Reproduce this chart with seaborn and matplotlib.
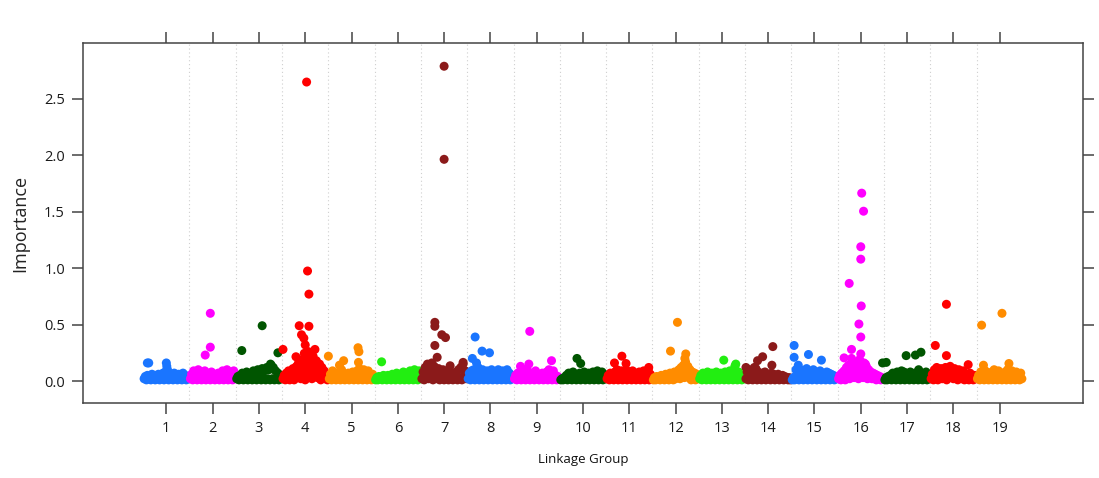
import numpy as np
import pandas as pd
import matplotlib
matplotlib.use("Agg")
import matplotlib.pyplot as plt
import seaborn as sns

# ---------------- data ----------------
groups = list(range(1, 20))
group_colors = ["#1a75ff", "#ff00ff", "#005500", "#ff0000", "#ff8c00", "#22ee11", "#8b1a1a",
                "#1a75ff", "#ff00ff", "#005500", "#ff0000", "#ff8c00", "#22ee11", "#8b1a1a",
                "#1a75ff", "#ff00ff", "#005500", "#ff0000", "#ff8c00"]

# marker offsets within each linkage group (relative to group centre)
base_offsets = [-0.48, -0.455, -0.43, -0.41, -0.385, -0.36, -0.335, -0.31, -0.29, -0.265,
                -0.24, -0.215, -0.19, -0.17, -0.145, -0.12, -0.095, -0.07, -0.05, -0.025,
                0.0, 0.025, 0.05, 0.07, 0.095, 0.12, 0.145, 0.17, 0.19, 0.215,
                0.24, 0.265, 0.29, 0.31, 0.335, 0.36, 0.385, 0.41, 0.43, 0.455,
                0.48]

base_g1 = [0.02, 0.04, 0.01, 0.05, 0.02, 0.03, 0.01, 0.06, 0.02, 0.04,
           0.01, 0.05, 0.02, 0.06, 0.01, 0.04, 0.02, 0.07, 0.01, 0.08,
           0.02, 0.10, 0.01, 0.06, 0.02, 0.05, 0.01, 0.07, 0.02, 0.04,
           0.01, 0.06, 0.02, 0.05, 0.01, 0.07, 0.02, 0.05, 0.01, 0.04,
           0.02]
base_g2 = [0.02, 0.06, 0.01, 0.09, 0.02, 0.07, 0.01, 0.10, 0.02, 0.08,
           0.01, 0.06, 0.02, 0.09, 0.01, 0.07, 0.02, 0.05, 0.01, 0.08,
           0.02, 0.06, 0.01, 0.04, 0.02, 0.07, 0.01, 0.05, 0.02, 0.09,
           0.01, 0.06, 0.02, 0.10, 0.01, 0.08, 0.02, 0.06, 0.01, 0.09,
           0.02]
base_g3 = [0.02, 0.04, 0.01, 0.05, 0.02, 0.07, 0.01, 0.06, 0.02, 0.08,
           0.01, 0.05, 0.02, 0.07, 0.01, 0.09, 0.02, 0.06, 0.01, 0.10,
           0.02, 0.08, 0.01, 0.11, 0.02, 0.09, 0.01, 0.12, 0.02, 0.10,
           0.01, 0.14, 0.02, 0.12, 0.01, 0.09, 0.02, 0.07, 0.01, 0.05,
           0.02]
base_g4 = [0.02, 0.05, 0.01, 0.07, 0.03, 0.09, 0.01, 0.06, 0.04, 0.11,
           0.01, 0.08, 0.13, 0.04, 0.16, 0.10, 0.02, 0.19, 0.07, 0.14,
           0.01, 0.21, 0.11, 0.05, 0.17, 0.09, 0.02, 0.22, 0.13, 0.06,
           0.18, 0.03, 0.10, 0.15, 0.01, 0.12, 0.06, 0.09, 0.02, 0.05,
           0.01]
base_g5 = [0.02, 0.06, 0.01, 0.09, 0.02, 0.07, 0.01, 0.05, 0.02, 0.08,
           0.01, 0.10, 0.02, 0.06, 0.01, 0.04, 0.02, 0.07, 0.01, 0.05,
           0.02, 0.08, 0.01, 0.06, 0.02, 0.09, 0.01, 0.11, 0.02, 0.08,
           0.01, 0.10, 0.02, 0.07, 0.01, 0.09, 0.02, 0.05, 0.01, 0.06,
           0.02]
base_g6 = [0.01, 0.03, 0.01, 0.04, 0.02, 0.03, 0.01, 0.05, 0.02, 0.04,
           0.01, 0.05, 0.02, 0.04, 0.01, 0.06, 0.02, 0.05, 0.01, 0.07,
           0.02, 0.06, 0.01, 0.05, 0.02, 0.08, 0.01, 0.07, 0.02, 0.06,
           0.01, 0.09, 0.02, 0.07, 0.01, 0.10, 0.02, 0.08, 0.01, 0.09,
           0.02]
base_g7 = [0.02, 0.08, 0.01, 0.12, 0.04, 0.15, 0.02, 0.10, 0.06, 0.16,
           0.01, 0.13, 0.04, 0.09, 0.02, 0.11, 0.01, 0.07, 0.03, 0.10,
           0.01, 0.08, 0.02, 0.06, 0.01, 0.09, 0.02, 0.07, 0.01, 0.05,
           0.02, 0.08, 0.01, 0.10, 0.03, 0.12, 0.01, 0.15, 0.04, 0.09,
           0.02]
base_g8 = [0.02, 0.07, 0.01, 0.09, 0.02, 0.10, 0.01, 0.06, 0.03, 0.12,
           0.01, 0.08, 0.02, 0.10, 0.01, 0.07, 0.02, 0.09, 0.01, 0.06,
           0.02, 0.10, 0.01, 0.08, 0.02, 0.07, 0.01, 0.10, 0.02, 0.06,
           0.01, 0.09, 0.02, 0.08, 0.01, 0.10, 0.02, 0.07, 0.01, 0.05,
           0.02]
base_g9 = [0.02, 0.05, 0.01, 0.07, 0.02, 0.06, 0.01, 0.09, 0.02, 0.10,
           0.01, 0.06, 0.02, 0.08, 0.01, 0.05, 0.02, 0.07, 0.01, 0.09,
           0.02, 0.06, 0.01, 0.05, 0.02, 0.07, 0.01, 0.06, 0.02, 0.08,
           0.01, 0.10, 0.02, 0.07, 0.01, 0.09, 0.02, 0.05, 0.01, 0.04,
           0.02]
base_g10 = [0.01, 0.02, 0.01, 0.03, 0.02, 0.05, 0.01, 0.07, 0.02, 0.05,
            0.01, 0.08, 0.02, 0.06, 0.01, 0.04, 0.02, 0.07, 0.01, 0.05,
            0.02, 0.08, 0.01, 0.06, 0.02, 0.07, 0.01, 0.04, 0.02, 0.08,
            0.01, 0.06, 0.02, 0.09, 0.01, 0.07, 0.02, 0.08, 0.01, 0.06,
            0.02]
base_g11 = [0.02, 0.05, 0.01, 0.07, 0.02, 0.06, 0.01, 0.08, 0.02, 0.10,
            0.01, 0.07, 0.02, 0.09, 0.01, 0.06, 0.02, 0.10, 0.01, 0.08,
            0.02, 0.06, 0.01, 0.09, 0.02, 0.07, 0.01, 0.05, 0.02, 0.08,
            0.01, 0.06, 0.02, 0.09, 0.01, 0.07, 0.02, 0.10, 0.01, 0.06,
            0.02]
base_g12 = [0.01, 0.03, 0.01, 0.04, 0.02, 0.03, 0.01, 0.05, 0.02, 0.04,
            0.01, 0.06, 0.02, 0.05, 0.01, 0.07, 0.02, 0.06, 0.01, 0.08,
            0.02, 0.07, 0.04, 0.10, 0.02, 0.12, 0.06, 0.14, 0.03, 0.17,
            0.08, 0.13, 0.03, 0.10, 0.01, 0.08, 0.02, 0.07, 0.01, 0.06,
            0.02]
base_g13 = [0.02, 0.05, 0.01, 0.07, 0.02, 0.06, 0.01, 0.08, 0.02, 0.06,
            0.01, 0.07, 0.02, 0.05, 0.01, 0.08, 0.02, 0.06, 0.01, 0.07,
            0.02, 0.05, 0.01, 0.08, 0.02, 0.06, 0.01, 0.09, 0.02, 0.07,
            0.01, 0.10, 0.02, 0.06, 0.01, 0.08, 0.02, 0.05, 0.01, 0.04,
            0.02]
base_g14 = [0.02, 0.08, 0.01, 0.10, 0.02, 0.07, 0.01, 0.09, 0.03, 0.11,
            0.01, 0.08, 0.02, 0.06, 0.01, 0.07, 0.02, 0.08, 0.01, 0.06,
            0.02, 0.05, 0.01, 0.07, 0.02, 0.06, 0.01, 0.05, 0.02, 0.06,
            0.01, 0.04, 0.02, 0.05, 0.01, 0.04, 0.02, 0.03, 0.01, 0.03,
            0.01]
base_g15 = [0.01, 0.03, 0.01, 0.04, 0.02, 0.06, 0.01, 0.10, 0.02, 0.07,
            0.01, 0.09, 0.02, 0.11, 0.01, 0.08, 0.02, 0.07, 0.01, 0.10,
            0.02, 0.08, 0.01, 0.06, 0.02, 0.09, 0.01, 0.07, 0.02, 0.05,
            0.01, 0.08, 0.02, 0.07, 0.01, 0.06, 0.02, 0.05, 0.01, 0.04,
            0.02]
base_g16 = [0.02, 0.05, 0.01, 0.07, 0.03, 0.09, 0.01, 0.12, 0.05, 0.14,
            0.02, 0.10, 0.07, 0.17, 0.03, 0.12, 0.08, 0.15, 0.02, 0.19,
            0.06, 0.11, 0.03, 0.16, 0.09, 0.13, 0.02, 0.10, 0.06, 0.08,
            0.02, 0.07, 0.04, 0.06, 0.01, 0.05, 0.02, 0.04, 0.01, 0.03,
            0.02]
base_g17 = [0.01, 0.03, 0.01, 0.04, 0.02, 0.05, 0.01, 0.07, 0.02, 0.06,
            0.01, 0.08, 0.02, 0.07, 0.01, 0.09, 0.02, 0.08, 0.01, 0.07,
            0.02, 0.06, 0.01, 0.08, 0.02, 0.05, 0.01, 0.07, 0.02, 0.06,
            0.01, 0.08, 0.02, 0.07, 0.01, 0.05, 0.02, 0.08, 0.01, 0.06,
            0.02]
base_g18 = [0.02, 0.06, 0.01, 0.10, 0.03, 0.12, 0.01, 0.08, 0.04, 0.11,
            0.02, 0.09, 0.05, 0.12, 0.01, 0.10, 0.03, 0.13, 0.06, 0.09,
            0.02, 0.11, 0.04, 0.08, 0.01, 0.10, 0.03, 0.07, 0.02, 0.09,
            0.01, 0.06, 0.02, 0.05, 0.01, 0.07, 0.02, 0.04, 0.01, 0.05,
            0.02]
base_g19 = [0.02, 0.05, 0.01, 0.08, 0.02, 0.06, 0.01, 0.09, 0.02, 0.07,
            0.01, 0.05, 0.02, 0.08, 0.01, 0.10, 0.02, 0.06, 0.01, 0.09,
            0.02, 0.07, 0.01, 0.05, 0.02, 0.08, 0.01, 0.10, 0.02, 0.07,
            0.01, 0.09, 0.02, 0.06, 0.01, 0.08, 0.02, 0.05, 0.01, 0.07,
            0.02]

# higher-importance markers: (position, importance)
peaks_g1 = [(0.59, 0.16), (0.62, 0.16), (1.0, 0.16), (1.01, 0.13)]
peaks_g2 = [(1.95, 0.60), (1.95, 0.30), (1.84, 0.23)]
peaks_g3 = [(3.07, 0.49), (2.63, 0.27), (3.41, 0.25), (3.25, 0.15)]
peaks_g4 = [(4.03, 2.65), (4.05, 0.975), (4.08, 0.77), (3.87, 0.49), (4.08, 0.485),
            (3.92, 0.41), (3.97, 0.38), (4.0, 0.32), (4.21, 0.28), (3.52, 0.28),
            (4.07, 0.26), (3.80, 0.215), (3.98, 0.245), (4.12, 0.20)]
peaks_g5 = [(4.5, 0.22), (5.14, 0.295), (5.16, 0.26), (5.15, 0.165), (4.83, 0.18), (4.74, 0.14)]
peaks_g6 = [(5.65, 0.17)]
peaks_g7 = [(7.0, 2.79), (7.0, 1.965), (6.8, 0.52), (6.8, 0.485), (6.95, 0.41),
            (7.03, 0.385), (6.8, 0.315), (6.85, 0.21), (7.13, 0.135), (7.41, 0.165)]
peaks_g8 = [(7.67, 0.39), (7.82, 0.265), (7.98, 0.25), (7.61, 0.20), (7.70, 0.16)]
peaks_g9 = [(8.85, 0.44), (9.32, 0.18), (8.83, 0.15), (8.65, 0.13)]
peaks_g10 = [(9.87, 0.20), (9.95, 0.155)]
peaks_g11 = [(10.84, 0.22), (10.68, 0.16), (10.93, 0.155), (11.42, 0.12)]
peaks_g12 = [(12.04, 0.52), (11.89, 0.265), (12.22, 0.24), (12.2, 0.20)]
peaks_g13 = [(13.04, 0.185), (13.3, 0.15), (13.28, 0.13)]
peaks_g14 = [(14.1, 0.305), (13.88, 0.215), (13.77, 0.18), (14.08, 0.14), (13.7, 0.12), (13.52, 0.12)]
peaks_g15 = [(14.56, 0.315), (14.56, 0.21), (14.87, 0.235), (15.15, 0.185), (14.65, 0.14), (14.6, 0.10)]
peaks_g16 = [(16.02, 1.665), (16.06, 1.505), (16.0, 1.19), (16.0, 1.08), (15.75, 0.865),
             (16.01, 0.665), (15.96, 0.505), (16.0, 0.39), (15.8, 0.28), (16.0, 0.24),
             (15.64, 0.205), (15.8, 0.20), (16.1, 0.15)]
peaks_g17 = [(16.47, 0.16), (16.55, 0.165), (16.98, 0.225), (17.18, 0.23), (17.3, 0.255), (17.25, 0.10)]
peaks_g18 = [(17.85, 0.68), (17.61, 0.315), (17.85, 0.225), (18.32, 0.145)]
peaks_g19 = [(18.61, 0.495), (19.05, 0.60), (19.2, 0.155), (18.65, 0.14)]

xtick_labels = [str(g) for g in groups]
ytick_values = [0.0, 0.5, 1.0, 1.5, 2.0, 2.5]
ytick_labels = ["0.0", "0.5", "1.0", "1.5", "2.0", "2.5"]

base_lists = [base_g1, base_g2, base_g3, base_g4, base_g5, base_g6, base_g7, base_g8,
              base_g9, base_g10, base_g11, base_g12, base_g13, base_g14, base_g15,
              base_g16, base_g17, base_g18, base_g19]
peak_lists = [peaks_g1, peaks_g2, peaks_g3, peaks_g4, peaks_g5, peaks_g6, peaks_g7,
              peaks_g8, peaks_g9, peaks_g10, peaks_g11, peaks_g12, peaks_g13, peaks_g14,
              peaks_g15, peaks_g16, peaks_g17, peaks_g18, peaks_g19]

rows = []
for g, vals, peaks in zip(groups, base_lists, peak_lists):
    for off, v in zip(base_offsets, vals):
        rows.append({"pos": g + off, "importance": v, "group": str(g)})
    for p, v in peaks:
        rows.append({"pos": p, "importance": v, "group": str(g)})
df = pd.DataFrame(rows)

# ---------------- plot ----------------
sns.set_theme(style="white")
plt.rcParams["font.family"] = ["Open Sans", "DejaVu Sans"]

fig = plt.figure(figsize=(10.99, 4.78), dpi=100)
ax = fig.add_axes([83 / 1099, 1 - 403 / 478, 1000 / 1099, 360 / 478])

for g in groups[:-1]:
    ax.axvline(g + 0.5, color="#cfcfcf", lw=0.8, ls=(0, (1, 2.5)), zorder=0)

palette = {str(g): c for g, c in zip(groups, group_colors)}
sns.scatterplot(data=df, x="pos", y="importance", hue="group", palette=palette,
                s=42, linewidth=0, alpha=1.0, legend=False, ax=ax, zorder=3)

ax.set_xlim(-0.8, 20.8)
ax.set_ylim(-0.195, 2.996)
ax.set_xticks(groups)
ax.set_xticklabels(xtick_labels)
ax.set_yticks(ytick_values)
ax.set_yticklabels(ytick_labels)

for s in ax.spines.values():
    s.set_color("#444444")
    s.set_linewidth(1.1)

ax.tick_params(axis="both", which="both", direction="out", length=8, width=1.1,
               color="#444444", labelsize=10.5, labelcolor="#1a1a1a", pad=5)
ax.tick_params(axis="x", top=True, bottom=True, labeltop=False, labelbottom=True)
ax.tick_params(axis="y", left=True, right=True, labelleft=True, labelright=False)

ax.set_xlabel("Linkage Group", fontsize=9.5, color="#111111", labelpad=12)
ax.set_ylabel("Importance", fontsize=13, color="#222222", labelpad=11)
ax.grid(False)

fig.savefig("out.png", dpi=100, facecolor="white")
